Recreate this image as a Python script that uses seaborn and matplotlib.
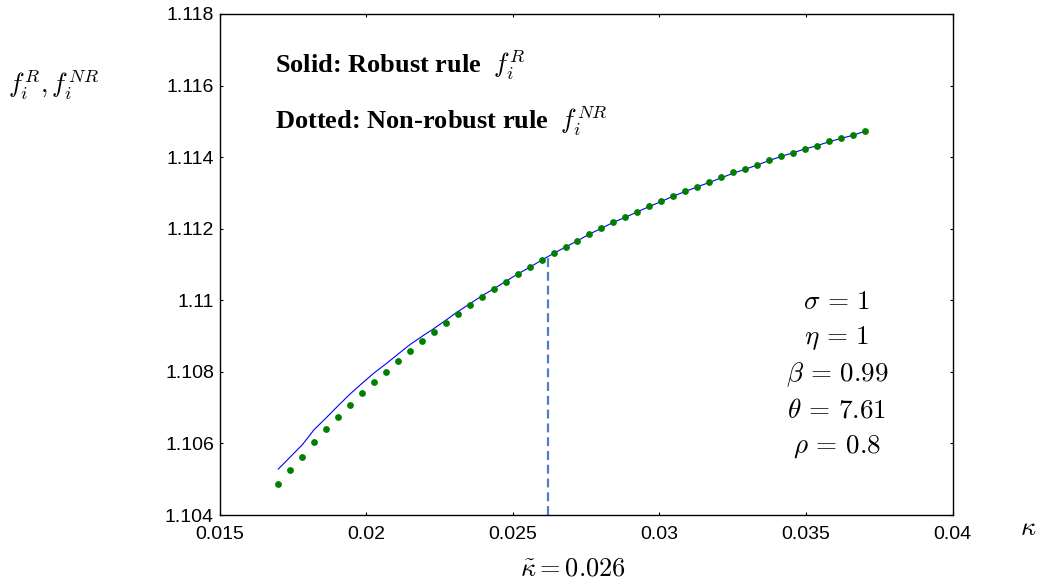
import numpy as np
import pandas as pd
import matplotlib
matplotlib.use("Agg")
import matplotlib.pyplot as plt
import seaborn as sns

# kappa grid (50 points between 0.017 and 0.037)
kappa = [0.01700, 0.01741, 0.01782, 0.01822, 0.01863, 0.01904, 0.01945, 0.01986,
         0.02027, 0.02067, 0.02108, 0.02149, 0.02190, 0.02231, 0.02271, 0.02312,
         0.02353, 0.02394, 0.02435, 0.02476, 0.02516, 0.02557, 0.02598, 0.02639,
         0.02680, 0.02720, 0.02761, 0.02802, 0.02843, 0.02884, 0.02924, 0.02965,
         0.03006, 0.03047, 0.03088, 0.03129, 0.03169, 0.03210, 0.03251, 0.03292,
         0.03333, 0.03373, 0.03414, 0.03455, 0.03496, 0.03537, 0.03578, 0.03618,
         0.03659, 0.03700]

# robust rule (solid blue)
f_robust = [1.10528, 1.10562, 1.10596, 1.10638, 1.10671, 1.10705, 1.10738, 1.10768,
            1.10797, 1.10822, 1.10849, 1.10876, 1.10899, 1.10921, 1.10944, 1.10968,
            1.10990, 1.11012, 1.11032, 1.11053, 1.11073, 1.11092, 1.11112, 1.11131,
            1.11149, 1.11166, 1.11185, 1.11201, 1.11218, 1.11232, 1.11247, 1.11262,
            1.11276, 1.11291, 1.11304, 1.11317, 1.11329, 1.11342, 1.11355, 1.11366,
            1.11378, 1.11390, 1.11402, 1.11412, 1.11423, 1.11432, 1.11443, 1.11452,
            1.11461, 1.11472]

# non-robust rule (green dots)
f_nonrobust = [1.10486, 1.10527, 1.10563, 1.10604, 1.10640, 1.10674, 1.10707, 1.10740,
               1.10772, 1.10800, 1.10830, 1.10859, 1.10887, 1.10912, 1.10937, 1.10962,
               1.10986, 1.11010, 1.11031, 1.11052, 1.11073, 1.11092, 1.11113, 1.11132,
               1.11149, 1.11166, 1.11186, 1.11202, 1.11219, 1.11232, 1.11248, 1.11263,
               1.11277, 1.11292, 1.11305, 1.11317, 1.11330, 1.11345, 1.11358, 1.11366,
               1.11379, 1.11391, 1.11403, 1.11412, 1.11424, 1.11432, 1.11444, 1.11453,
               1.11461, 1.11473]

kappa_tilde = 0.0262
f_tilde = 1.1113

x_ticks = [0.015, 0.02, 0.025, 0.03, 0.035, 0.04]
x_labels = ["0.015", "0.02", "0.025", "0.03", "0.035", "0.04"]
y_ticks = [1.104, 1.106, 1.108, 1.11, 1.112, 1.114, 1.116, 1.118]
y_labels = ["1.104", "1.106", "1.108", "1.11", "1.112", "1.114", "1.116", "1.118"]

params = [r"$\sigma\,=\,1$", r"$\eta\,=\,1$", r"$\beta\,=\,0.99$",
          r"$\theta\,=\,7.61$", r"$\rho\,=\,0.8$"]

df = pd.DataFrame({"kappa": kappa, "robust": f_robust, "nonrobust": f_nonrobust})

sns.set_theme(style="white")
plt.rcParams["font.family"] = ["Liberation Sans", "DejaVu Sans"]
plt.rcParams["mathtext.fontset"] = "cm"
plt.rcParams["text.color"] = "black"
plt.rcParams["xtick.color"] = "black"
plt.rcParams["ytick.color"] = "black"
plt.rcParams["axes.labelcolor"] = "black"

W, H = 1043, 588
fig = plt.figure(figsize=(W / 100, H / 100), dpi=100)
ax = fig.add_axes([219.5 / W, 1 - 515 / H, (952.8 - 219.5) / W, (515 - 14) / H])

sns.lineplot(data=df, x="kappa", y="robust", ax=ax, color="#0000ff", linewidth=0.8)
sns.scatterplot(data=df, x="kappa", y="nonrobust", ax=ax, color="#008000",
                s=24, linewidth=0, zorder=3)
ax.vlines(kappa_tilde, 1.104, f_tilde, colors="#4f7fbf", linewidth=1.6,
          linestyles=(0, (4, 2.2)), zorder=2)

ax.set_xlim(0.015, 0.04)
ax.set_ylim(1.104, 1.118)
ax.set_xticks(x_ticks)
ax.set_xticklabels(x_labels)
ax.set_yticks(y_ticks)
ax.set_yticklabels(y_labels)
ax.set_xlabel("")
ax.set_ylabel("")
ax.tick_params(direction="in", length=2.5, width=0.8, color="black", labelsize=14,
               labelcolor="black", top=True, right=True, bottom=True, left=True)
ax.tick_params(axis="x", pad=8)
ax.tick_params(axis="y", pad=4)
for sp in ax.spines.values():
    sp.set_visible(True)
    sp.set_color("black")
    sp.set_linewidth(1.0)

# annotations
serif = ["Liberation Serif", "DejaVu Serif"]
fig.text(275 / W, 1 - 73 / H, r"Solid: Robust rule  $f_i^R$", family=serif,
         fontsize=19, fontweight="bold", ha="left", va="baseline")
fig.text(275 / W, 1 - 129 / H, r"Dotted: Non-robust rule  $f_i^{NR}$", family=serif,
         fontsize=19, fontweight="bold", ha="left", va="baseline")

for i, p in enumerate(params):
    fig.text(837 / W, 1 - (302 + 36.2 * i) / H, p, fontsize=19.5,
             ha="center", va="center")

fig.text(8 / W, 1 - 85 / H, r"$f_i^R, f_i^{NR}$", fontsize=19, ha="left", va="center")
fig.text(1028 / W, 1 - 528 / H, r"$\kappa$", fontsize=19, ha="center", va="center")
fig.text(573 / W, 1 - 568 / H, r"$\tilde{\kappa} = 0.026$", fontsize=19,
         ha="center", va="center")

fig.savefig("out.png", dpi=100)
